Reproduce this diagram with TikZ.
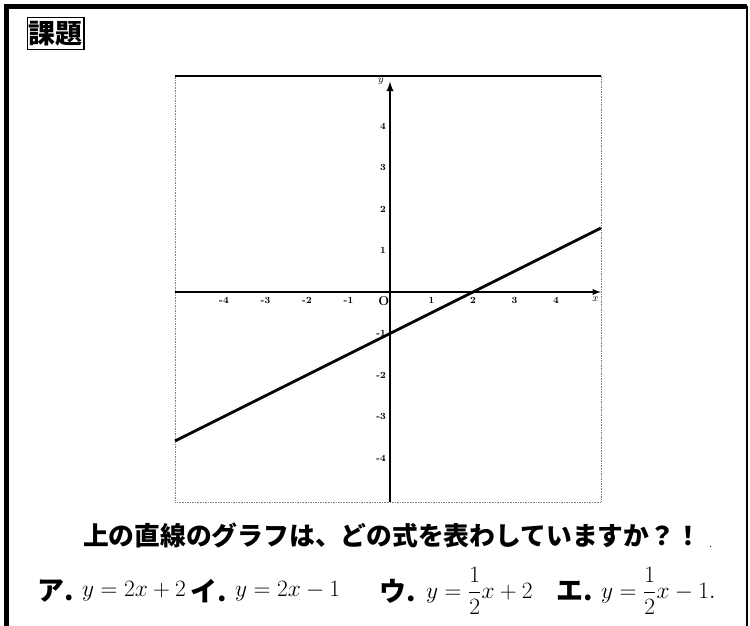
\RequirePackage{fix-cm}
\documentclass[tikz,border=0pt]{standalone}
\usepackage{fontspec}
\newfontfamily\jpfont{Noto Sans CJK JP}
\usetikzlibrary{arrows, math, positioning}

\begin{document}
\begin{tikzpicture}[x=0.03cm,y=-0.03cm]
\tikzmath{
\u=1.245;
\xl=-5.18;
\xr=5.08;
\yb=-5.06;
\yt=5.2;
}
\useasboundingbox (0,0) rectangle (750,626);

%frame
\draw[line width=4.5pt] (6.5,626) -- (6.5,6.5) -- (747,6.5);
\draw[line width=1.6pt] (747,6.5) -- (747,626);

%title
\node[draw, line width=1.2pt, inner xsep=1pt, inner ysep=3pt, anchor=north west, font=\jpfont\bfseries\fontsize{23}{23}\selectfont] (title) at (27,17) {課題};

%graph
\begin{scope}[shift={(390,292)}, x=\u cm, y=\u cm]
\draw[gray, densely dotted] (\xl,\yb) rectangle (\xr,\yt);
\draw[line width=1.2pt] (\xl,\yt) -- (\xr,\yt);

\coordinate (xs) at (\xl,0);
\coordinate (xe) at (5.08,0);
\coordinate (ys) at (0,\yb);
\coordinate (ye) at (0,5.07);
\draw[-latex, line width=1.4pt] (xs) -- (xe) node[below left=0pt and -2pt, font=\bfseries\fontsize{9}{9}\selectfont] (xlab) {$x$};
\draw[-latex, line width=1.8pt] (ys) -- (ye) node[left=1pt, font=\bfseries\fontsize{9}{9}\selectfont] (ylab) {$y$};

\foreach \i in {-4,-3,-2,-1,1,2,3,4}
  \node[below=1pt, font=\bfseries\fontsize{8}{8}\selectfont] (xt\i) at (\i,0) {\i};
\foreach \j in {-4,-3,-2,-1,1,2,3,4}
  \node[left=0pt, font=\bfseries\fontsize{8}{8}\selectfont] (yt\j) at (0,\j) {\j};
\node[below left=0pt and -3pt, font=\bfseries\fontsize{11}{11}\selectfont] (orig) at (0,0) {O};

%line
\coordinate (ls) at (\xl,\xl/2-1);
\coordinate (le) at (\xr,\xr/2-1);
\draw[line width=2.4pt] (ls) -- (le);
\end{scope}

%question
\node[font=\jpfont\bfseries\fontsize{22}{22}\selectfont] (question) at (392,535) {上の直線のグラフは、どの式を表わしていますか？！};
\node[right=0pt of question.south east, anchor=south west, font=\fontsize{10}{10}\selectfont] (qdot) {.};

%answers
\node[font=\jpfont\bfseries\fontsize{23}{23}\selectfont] (ka) at (56,591) {ア.};
\node[anchor=west, font=\fontsize{20}{22}\selectfont] (ea) at (78,591) {$y=2x+2$};
\node[font=\jpfont\bfseries\fontsize{23}{23}\selectfont] (ki) at (209,591) {イ.};
\node[anchor=west, font=\fontsize{20}{22}\selectfont] (ei) at (231,591) {$y=2x-1$};
\node[font=\jpfont\bfseries\fontsize{23}{23}\selectfont] (ku) at (398,591) {ウ.};
\node[anchor=west, font=\fontsize{20}{22}\selectfont] (eu) at (422,591) {$y=\displaystyle\frac{1}{2}x+2$};
\node[font=\jpfont\bfseries\fontsize{23}{23}\selectfont] (ke) at (575,591) {エ.};
\node[anchor=west, font=\fontsize{20}{22}\selectfont] (ee) at (597,591) {$y=\displaystyle\frac{1}{2}x-1.$};
\end{tikzpicture}
\end{document}
